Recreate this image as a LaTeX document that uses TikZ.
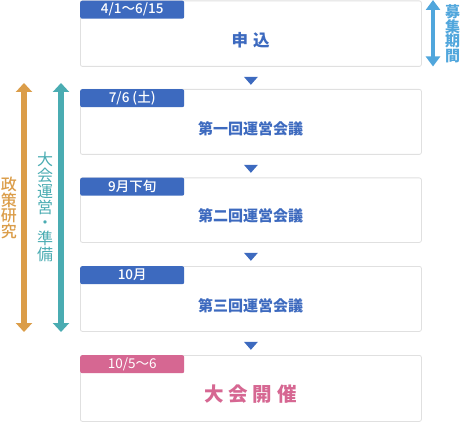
\documentclass[tikz,border=0pt]{standalone}
\usepackage{fontspec}
\setmainfont{Noto Sans CJK JP}
\newfontfamily\jpmed{Noto Sans CJK JP Medium}
\usetikzlibrary{arrows.meta,calc}
\definecolor{cblue}{RGB}{61,106,191}
\definecolor{cpink}{RGB}{214,103,146}
\definecolor{corange}{RGB}{219,157,73}
\definecolor{cteal}{RGB}{74,172,178}
\definecolor{clight}{RGB}{80,166,220}
\definecolor{cborder}{RGB}{224,224,224}
\begin{document}
\begin{tikzpicture}[x=1pt,y=-1pt,
  box/.style={draw=cborder,line width=0.8pt,fill=white,rounded corners=2pt,anchor=north west,minimum width=341pt,inner sep=0pt},
  tab/.style={fill=#1,rounded corners=2pt,anchor=north west,minimum width=104pt,minimum height=18pt,inner sep=0pt,text=white,font=\fontsize{13.5}{14}\jpmed},
  tab/.default=cblue,
  maintext/.style={text=cblue,font=\fontsize{15}{16}\selectfont\bfseries,inner sep=0pt},
  tri/.style={fill=cblue},
  vtext/.style={align=center,inner sep=0pt},
  bigarrow/.style={line width=6pt,{Triangle[width=16pt,length=9pt]}-{Triangle[width=16pt,length=9pt]}}
]
\useasboundingbox (0,0) rectangle (460,422);
% boxes
\node[box,minimum height=65.5pt] (b1) at (80,0.5) {};
\node[box,minimum height=65pt] (b2) at (80,89) {};
\node[box,minimum height=64.5pt] (b3) at (80,177.5) {};
\node[box,minimum height=65pt] (b4) at (80,266) {};
\node[box,minimum height=66pt] (b5) at (80,355) {};
% tabs
\node[tab] (t1) at (b1.north west) {4/1〜6/15};
\node[tab] (t2) at (b2.north west) {7/6 (土)};
\node[tab] (t3) at (b3.north west) {9月下旬};
\node[tab] (t4) at (b4.north west) {10月};
\node[tab=cpink,font=\fontsize{13.5}{14}\selectfont] (t5) at (b5.north west) {10/5〜6};
% main texts
\node[maintext,font=\fontsize{16.5}{17}\selectfont\bfseries] (m1) at (250.5,40) {申\hspace{5pt}込};
\node[maintext] (m2) at (250.5,128.5) {第一回運営会議};
\node[maintext] (m3) at (250.5,216) {第二回運営会議};
\node[maintext] (m4) at (250.5,305.5) {第三回運営会議};
\node[maintext,text=cpink,font=\fontsize{19.5}{20}\selectfont\bfseries] (m5) at (250.5,394) {大\hspace{5pt}会\hspace{5pt}開\hspace{5pt}催};
% triangles
\foreach \a in {b1,b2,b3,b4}{
  \fill[tri] ($(\a.south)+(-7,10)$) -- ++(14,0) -- ++(-7,8) -- cycle;
}
% right arrow
\coordinate (rTop) at (433,0);
\coordinate (rBot) at (433,66.5);
\draw[clight,line width=4pt,{Triangle[width=14pt,length=10pt]}-{Triangle[width=14pt,length=10pt]}] (rTop) -- (rBot);
\node[vtext,text=clight,font=\fontsize{15}{14.3}\selectfont\bfseries] (rt) at (452.5,33.5) {募\\集\\期\\間};
% left arrows
\coordinate (oTop) at (24,83);
\coordinate (oBot) at (24,332);
\draw[corange,bigarrow] (oTop) -- (oBot);
\coordinate (tTop) at (61,83);
\coordinate (tBot) at (61,332);
\draw[cteal,bigarrow] (tTop) -- (tBot);
\node[vtext,text=corange,font=\fontsize{16}{15.4}\jpmed] (ot) at (9,208) {政\\策\\研\\究};
\node[vtext,text=cteal,font=\fontsize{16}{15.7}\selectfont] (tt) at (45,207) {大\\会\\運\\営\\・\\準\\備};
\end{tikzpicture}
\end{document}
